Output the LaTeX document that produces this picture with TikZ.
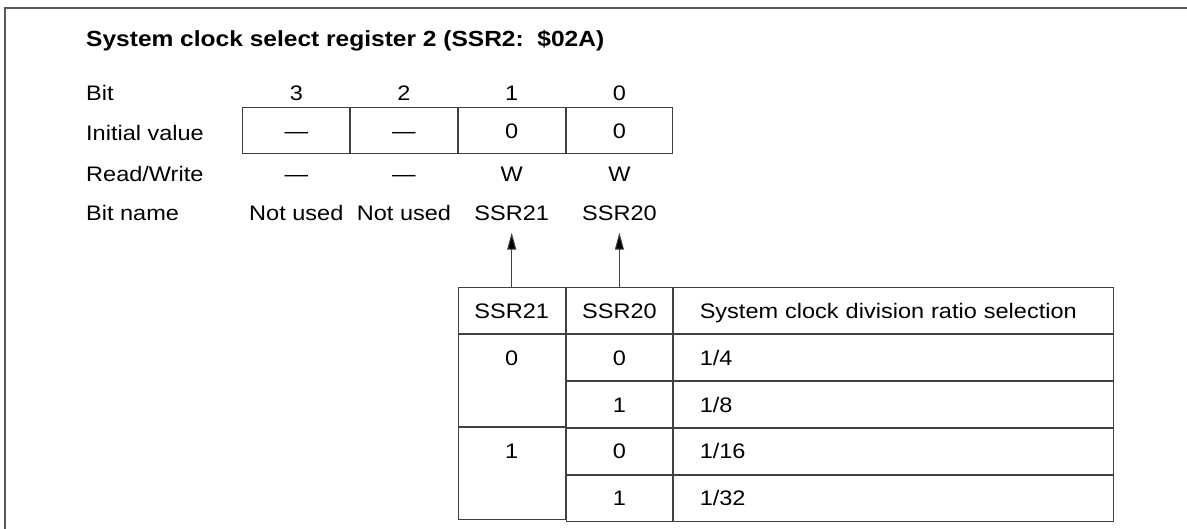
\documentclass[tikz,border=0pt]{standalone}
\usepackage{fontspec}
\setmainfont{Liberation Sans}[FakeStretch=1.12]
\usepackage{tikz}
\usetikzlibrary{arrows.meta,positioning,calc}

\begin{document}
\begin{tikzpicture}[x=1pt, y=-1pt, font=\fontsize{21}{25}\selectfont,
    txt/.style={inner sep=0pt, text height=15pt, text depth=0pt},
    cell/.style={draw=black!75, line width=1pt, inner sep=0pt, text height=15pt, text depth=0pt, minimum width=106.7pt, minimum height=46pt},
    wide/.style={cell, minimum width=440pt, text width=388pt, align=left},
    arr/.style={draw=black!75, line width=1pt, -{Triangle[length=17pt,width=9pt,fill=black]}}]
    \useasboundingbox (0,0) rectangle (1187,529);
    \draw [black!65, line width=1.5pt] (5,529) -- (5,8) -- (1187,8);

    \node (title) [txt, anchor=west, font=\fontsize{21.9}{25}\selectfont\bfseries] at (86,39) {System clock select register 2 (SSR2:\ \ \$02A)};

    % register
    \node (lbit) [txt, anchor=west] at (86,93) {Bit};
    \node (linit) [txt, anchor=west] at (86,133) {Initial value};
    \node (lrw) [txt, anchor=west] at (86,174) {Read/Write};
    \node (lname) [txt, anchor=west] at (86,213) {Bit name};

    \node (reg3) [cell] at (296.3,131) {---};
    \node (reg2) [cell, right=0pt of reg3] {---};
    \node (reg1) [cell, right=0pt of reg2] {0};
    \node (reg0) [cell, right=0pt of reg1] {0};

    \node (bit3) [txt] at (reg3 |- lbit) {3};
    \node (bit2) [txt] at (reg2 |- lbit) {2};
    \node (bit1) [txt] at (reg1 |- lbit) {1};
    \node (bit0) [txt] at (reg0 |- lbit) {0};
    \node (rw3) [txt] at (reg3 |- lrw) {---};
    \node (rw2) [txt] at (reg2 |- lrw) {---};
    \node (rw1) [txt] at (reg1 |- lrw) {W};
    \node (rw0) [txt] at (reg0 |- lrw) {W};
    \node (nm3) [txt] at (reg3 |- lname) {Not used};
    \node (nm2) [txt] at (reg2 |- lname) {Not used};
    \node (nm1) [txt] at (reg1 |- lname) {SSR21};
    \node (nm0) [txt] at (reg0 |- lname) {SSR20};

    % selection table
    \node (hd1) [cell] at (reg1 |- 0,311) {SSR21};
    \node (hd2) [cell, right=0pt of hd1] {SSR20};
    \node (hd3) [wide, right=0pt of hd2] {System clock division ratio selection};

    \node (sa0) [cell, minimum height=91.5pt, below=0pt of hd1] {};
    \node (sa1) [cell, minimum height=91.5pt, below=0pt of sa0] {};
    \node (sb00) [cell, minimum height=45.75pt, below=0pt of hd2] {0};
    \node (sb01) [cell, minimum height=45.75pt, below=0pt of sb00] {1};
    \node (sb10) [cell, minimum height=45.75pt, below=0pt of sb01] {0};
    \node (sb11) [cell, minimum height=45.75pt, below=0pt of sb10] {1};
    \node (rt00) [wide, minimum height=45.75pt, below=0pt of hd3] {1/4};
    \node (rt01) [wide, minimum height=45.75pt, below=0pt of rt00] {1/8};
    \node (rt10) [wide, minimum height=45.75pt, below=0pt of rt01] {1/16};
    \node (rt11) [wide, minimum height=45.75pt, below=0pt of rt10] {1/32};
    \node (va0) [txt] at (sa0 |- sb00) {0};
    \node (va1) [txt] at (sa1 |- sb10) {1};

    \draw [arr] (hd1.north) -- ([yshift=-12pt]nm1.south);
    \draw [arr] (hd2.north) -- ([yshift=-12pt]nm0.south);
\end{tikzpicture}
\end{document}
